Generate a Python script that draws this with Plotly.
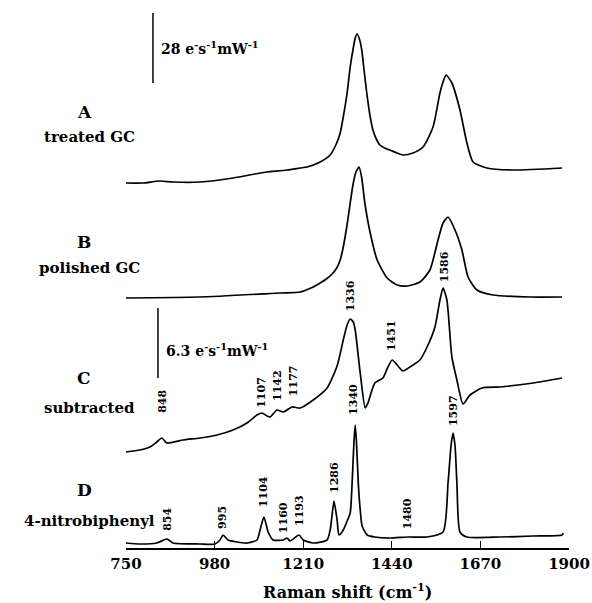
import plotly.graph_objects as go

# ---- data (stacked display units; each spectrum carries its own offset) ----
a_x = [750, 794, 838, 872, 942, 1028, 1098, 1116, 1168, 1202, 1220, 1254, 1280, 1297, 1306, 1314, 1324, 1332, 1340, 1345, 1350, 1356, 1362, 1368, 1375, 1384, 1391, 1401, 1409, 1427, 1435, 1453, 1469, 1495, 1521, 1547, 1565, 1573, 1581, 1596, 1617, 1635, 1651, 1687, 1755, 1882]
a_y = [365, 365, 367, 366, 366, 370, 375, 376, 378, 380, 381, 386, 393, 405, 415, 431, 455, 481, 500, 510, 514, 509, 498, 478, 455, 431, 418, 408, 403, 399, 398, 395, 393, 395, 401, 421, 455, 466, 473, 465, 438, 405, 386, 380, 378, 380]

b_x = [750, 942, 1150, 1202, 1236, 1254, 1270, 1285, 1297, 1306, 1314, 1323, 1332, 1340, 1347, 1355, 1362, 1370, 1384, 1402, 1428, 1454, 1480, 1513, 1539, 1560, 1573, 1586, 1604, 1622, 1638, 1661, 1703, 1799, 1882]
b_y = [250, 251, 255, 256, 261, 265, 269, 274, 280, 288, 301, 321, 345, 365, 376, 381, 370, 345, 315, 288, 270, 263, 262, 266, 278, 308, 325, 331, 318, 298, 271, 258, 253, 251, 251]

c_x = [750, 786, 812, 830, 843, 856, 898, 942, 986, 1028, 1064, 1090, 1103, 1116, 1124, 1142, 1158, 1181, 1202, 1236, 1272, 1298, 1314, 1324, 1332, 1340, 1345, 1358, 1371, 1378, 1396, 1417, 1430, 1441, 1454, 1469, 1487, 1513, 1534, 1552, 1565, 1573, 1583, 1596, 1609, 1625, 1643, 1674, 1721, 1807, 1882]
c_y = [96, 98, 101, 106, 110, 105, 108, 110, 113, 118, 125, 133, 135, 132, 131, 138, 136, 141, 140, 148, 160, 182, 208, 223, 229, 226, 218, 175, 140, 145, 165, 170, 181, 188, 183, 177, 181, 188, 203, 221, 248, 260, 248, 191, 168, 144, 153, 160, 161, 165, 170]

d_x = [750, 786, 830, 856, 872, 942, 981, 994, 1002, 1015, 1038, 1064, 1090, 1098, 1108, 1119, 1132, 1158, 1168, 1176, 1199, 1210, 1236, 1272, 1280, 1285, 1290, 1298, 1303, 1314, 1324, 1332, 1337, 1342, 1345, 1348, 1353, 1358, 1363, 1376, 1396, 1435, 1482, 1531, 1573, 1586, 1594, 1599, 1604, 1609, 1617, 1635, 1721, 1807, 1882, 1885]
d_y = [5, 4, 5, 9, 5, 4, 4, 8, 13, 8, 6, 5, 8, 18, 31, 16, 8, 8, 10, 7, 13, 8, 5, 8, 18, 33, 47, 28, 13, 18, 27, 35, 65, 108, 123, 108, 65, 38, 22, 13, 11, 10, 11, 11, 16, 65, 103, 115, 103, 65, 16, 11, 11, 12, 13, 15]

x_ticks = [750, 980, 1210, 1440, 1670, 1900]

# peak labels: text, wavenumber position, height
peak_text = ["848", "1107", "1142", "1177", "1336", "1451", "1586", "1340", "1597",
             "854", "995", "1104", "1160", "1193", "1286", "1480"]
peak_x = [843, 1100, 1142, 1184, 1332, 1438, 1576, 1339, 1599,
          856, 999, 1106, 1158, 1199, 1290, 1480]
peak_y = [147, 156, 162, 167, 252, 212, 281, 149, 137,
          29, 31, 56, 30, 38, 70, 34]

# trace labels
letter_text = ["A", "B", "C", "D"]
letter_y = [436, 306, 170, 58]
desc_text = ["treated GC", "polished GC", "subtracted", "4-nitrobiphenyl"]
desc_y = [411, 280, 140, 27]

# scale bars
bar_x = [820, 833]
bar_y0 = [465, 170]
bar_y1 = [535, 240]
bar_text = ["28 e<sup>-</sup>s<sup>-1</sup>mW<sup>-1</sup>", "6.3 e<sup>-</sup>s<sup>-1</sup>mW<sup>-1</sup>"]
bar_text_y = [500, 198]

SERIF = "DejaVu Serif"

fig = go.Figure()
for xs, ys in [(a_x, a_y), (b_x, b_y), (c_x, c_y), (d_x, d_y)]:
    fig.add_trace(go.Scatter(x=xs, y=ys, mode="lines",
                             line=dict(color="black", width=1.7, shape="spline", smoothing=0.6),
                             showlegend=False, hoverinfo="skip"))

annotations = []
for t, x, y in zip(peak_text, peak_x, peak_y):
    annotations.append(dict(x=x, y=y, xref="x", yref="y", text=t, showarrow=False,
                            textangle=-90, xanchor="center", yanchor="middle",
                            font=dict(family=SERIF, size=11, color="black", weight="bold")))
W_PX = 443.0
for t, y in zip(letter_text, letter_y):
    annotations.append(dict(x=(84 - 126) / W_PX, y=y, xref="paper", yref="y", text=t,
                            showarrow=False, xanchor="center", yanchor="middle",
                            font=dict(family=SERIF, size=17, color="black", weight="bold")))
for t, y in zip(desc_text, desc_y):
    annotations.append(dict(x=(89 - 126) / W_PX, y=y, xref="paper", yref="y", text=t,
                            showarrow=False, xanchor="center", yanchor="middle",
                            font=dict(family=SERIF, size=15, color="black", weight="bold")))
shapes = []
for bx, y0, y1, t, ty in zip(bar_x, bar_y0, bar_y1, bar_text, bar_text_y):
    shapes.append(dict(type="line", xref="x", yref="y", x0=bx, x1=bx, y0=y0, y1=y1,
                       line=dict(color="black", width=1.5)))
    annotations.append(dict(x=bx, y=ty, xref="x", yref="y", text=t, showarrow=False,
                            xanchor="left", yanchor="middle", xshift=6,
                            font=dict(family=SERIF, size=14, color="black", weight="bold")))
annotations.append(dict(x=(347 - 126) / W_PX, y=-(591 - 548) / 548.0, xref="paper", yref="paper",
                        text="Raman shift (cm<sup>-1</sup>)", showarrow=False,
                        xanchor="center", yanchor="middle",
                        font=dict(family=SERIF, size=16, color="black", weight="bold")))

fig.update_layout(
    width=592, height=603,
    margin=dict(l=126, r=23, t=0, b=55),
    paper_bgcolor="white", plot_bgcolor="white",
    xaxis=dict(range=[750, 1900], tickvals=x_ticks, ticktext=[str(v) for v in x_ticks],
               showgrid=False, zeroline=False, showline=True, linecolor="black", linewidth=1.5,
               ticks="inside", ticklen=7, tickwidth=1.2, tickcolor="black",
               ticklabelstandoff=1,
               tickfont=dict(family=SERIF, size=15, color="black", weight="bold")),
    yaxis=dict(range=[0, 548], visible=False),
    annotations=annotations, shapes=shapes,
)
fig.write_html("out.html")
